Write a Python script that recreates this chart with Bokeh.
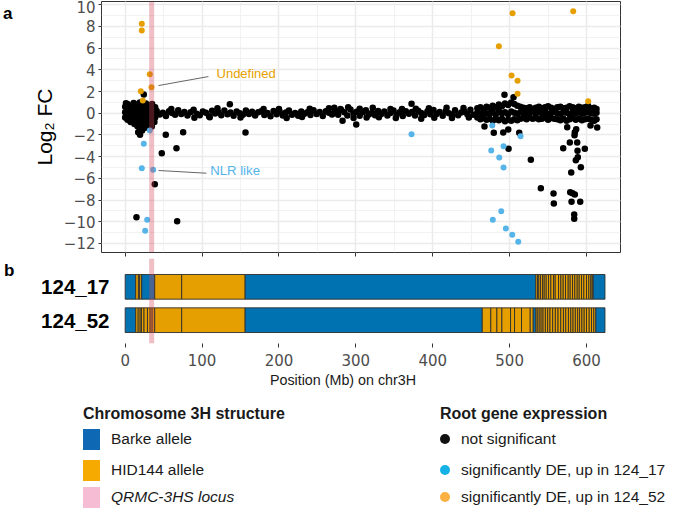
from bokeh.plotting import figure
from bokeh.models import Range1d, SingleIntervalTicker, FixedTicker, LinearAxis, Div
from bokeh.layouts import column
from bokeh.embed import file_html
from bokeh.resources import INLINE
from bokeh.core.properties import value

# ---------------- data ----------------
# QRMC-3HS locus (Mb)
locus = [31.2, 37.7]

# not significant genes: dense cloud at the left end of 3H
left_x = [0, 0, 0, 1, 3, 4, 4, 3, 7, 8, 8, 7, 11, 12, 12, 11, 12, 15, 16, 16, 15, 16,
          19, 20, 20, 19, 20, 19, 23, 24, 24, 23, 24, 22, 27, 28, 28, 27, 28, 26,
          31, 32, 32, 31, 30, 35, 36, 36, 35, 34, 39, 39, 39, 38]
left_y = [0.6, 0.1, -0.4, 0.92, 0.85, 0.35, -0.15, -0.6, 0.7, 0.2, -0.3, -0.8,
          0.95, 0.4, -0.1, -0.55, -1.0, 0.8, 0.25, -0.3, -0.75, -1.2,
          1.0, 0.5, 0.0, -0.45, -0.9, -1.4, 0.75, 0.3, -0.2, -0.65, -1.05, -1.6,
          0.9, 0.4, -0.1, -0.55, -1.0, -1.35, 0.7, 0.2, -0.3, -0.75, -1.15,
          0.85, 0.35, -0.15, -0.6, -1.0, 0.55, 0.05, -0.4, -0.8]

# not significant genes along the chromosome body
mid_x = [41, 45, 49, 53, 57, 61, 65, 69, 73, 77, 81, 85, 89, 93, 97, 101, 105, 109, 113, 117,
         121, 125, 129, 133, 137, 141, 145, 149, 153, 157, 161, 165, 169, 173, 177, 181, 185,
         189, 193, 197, 201, 205, 209, 213, 217, 221, 225, 229, 233, 237, 241, 245, 249, 253,
         257, 261, 265, 269, 273, 277, 281, 285, 289, 293, 297, 301, 305, 309, 313, 317, 321,
         325, 329, 333, 337, 341, 345, 349, 353, 357, 361, 365, 369, 373, 377, 381, 385, 389,
         393, 397, 401, 405, 409, 413, 417, 421, 425, 429, 433, 437, 441, 445, 449, 453]
mid_y = [0.21, -0.12, 0.05, -0.25, 0.18, 0.02, -0.15, 0.28, -0.08, 0.12,
         -0.22, 0.09, 0.31, -0.05, -0.18, 0.15, 0.04, -0.28, 0.22, -0.02,
         0.11, -0.19, 0.26, -0.1, 0.07, -0.24, 0.17, 0.0, -0.14, 0.24,
         -0.06, 0.13, -0.21, 0.08, 0.19, -0.16, 0.03, -0.27, 0.2, -0.09,
         0.14, -0.2, 0.06, 0.25, -0.13, 0.01, -0.23, 0.16, -0.04, 0.1,
         -0.17, 0.27, -0.07, 0.12, -0.26, 0.18, 0.04, -0.11, 0.23, -0.15,
         0.3, 0.08, -0.2, 0.35, -0.03, 0.14, -0.24, 0.1, 0.28, -0.12,
         0.05, -0.18, 0.21, -0.08, 0.16, -0.22, 0.02, 0.26, -0.14, 0.09,
         -0.25, 0.19, -0.05, 0.12, -0.2, 0.24, 0.03, -0.16, 0.15, -0.1,
         0.29, -0.06, 0.11, -0.23, 0.2, 0.0, -0.13, 0.27, -0.19, 0.07,
         0.17, -0.09, 0.32, -0.15]
extra_x = [60, 90, 110, 120, 150, 180, 200, 210, 230, 240, 265, 272, 280, 290, 297, 305, 314,
           322, 330, 345, 352, 360, 378, 385, 395, 402, 418, 425, 440, 447]
extra_y = [0.4, -0.42, -0.38, 0.45, -0.4, 0.38, 0.4, -0.45, -0.35, 0.42, 0.45, 0.5, 0.38, 0.55,
           -0.45, 0.42, -0.4, 0.5, -0.38, 0.4, -0.45, 0.38, 0.42, -0.5, 0.45, -0.42, 0.5, -0.45,
           0.48, -0.4]

# not significant genes: dense cloud at the distal right end
right_x = [458, 462, 466, 470, 474, 478, 482, 486, 490, 494, 498, 502, 506, 510, 514, 518, 522,
           526, 530, 534, 538, 542, 546, 550, 554, 558, 562, 566, 570, 574, 578, 582, 586, 590,
           594, 598, 602, 606, 610, 613]
right_y_hi = [0.45, 0.55, 0.4, 0.6, 0.5, 0.7, 0.55, 0.8, 0.65, 0.9, 0.75, 1.0, 0.85, 0.7, 0.6,
              0.5, 0.45, 0.55, 0.4, 0.5, 0.6, 0.45, 0.55, 0.65, 0.5, 0.4, 0.55, 0.6, 0.45, 0.5,
              0.65, 0.55, 0.45, 0.6, 0.5, 0.55, 0.7, 0.45, 0.5, 0.4]
right_y_mid = [0.05, -0.1, 0.15, 0.0, -0.05, 0.1, -0.15, 0.2, 0.0, 0.1, -0.1, 0.15, 0.05, -0.05,
               0.1, 0.0, -0.1, 0.05, 0.15, -0.05, 0.1, 0.0, 0.2, -0.1, 0.05, 0.15, 0.0, -0.05,
               0.1, 0.05, -0.1, 0.15, 0.0, 0.1, -0.05, 0.05, 0.1, 0.0, -0.05, 0.05]
right_y_lo = [-0.4, -0.55, -0.45, -0.6, -0.5, -0.7, -0.55, -0.65, -0.5, -0.75, -0.6, -0.7, -0.55,
              -0.65, -0.5, -0.45, -0.55, -0.4, -0.5, -0.45, -0.55, -0.5, -0.4, -0.6, -0.45, -0.5,
              -0.55, -0.65, -0.5, -0.7, -0.55, -0.45, -0.6, -0.5, -0.65, -0.55, -0.5, -0.6, -0.7,
              -0.55]

# not significant genes away from the main band
out_x = [24.2, 19.3, 16.9, 14.7, 67.6, 38.5, 47.6, 52.8, 66.7, 75.4, 34.6, 136.1, 156.5, 282.7,
         300.5, 372.4, 467.3, 479.4, 491.7, 498.2, 498.6, 512.5, 527.6, 540.6, 557.1, 557.5,
         569.7, 574.9, 578.3, 580.1, 578.8, 581.8, 584.8, 580.5, 591.8, 584.0, 584.0, 584.8,
         584.4, 586.6, 587.9, 588.3, 588.7, 597.8, 586.1, 592.6, 605.2, 613.9, 493.3, 505.1]
out_y = [1.72, -1.99, -1.75, -9.58, -9.95, -6.54, -3.69, -1.99, -3.23, -1.75, -1.23, 0.83, -1.78,
         -0.70, -1.04, 0.87, -1.23, -1.81, -1.78, -1.50, -3.28, -1.81, -4.30, -6.91, -7.40,
         -8.32, -3.22, -1.29, -2.70, -5.47, -7.28, -7.37, -7.49, -8.17, -8.17, -9.34, -9.74,
         -1.75, -2.03, -1.47, -2.70, -3.47, -4.06, -3.28, -4.33, -4.98, -1.13, -1.32, 1.70, 1.47]

# significantly DE, up in 124_17
up17_x = [32.0, 24.2, 21.6, 36.4, 28.6, 26.0, 372.4, 477.4, 514.2, 492.1, 476.1, 486.5, 492.1,
          489.1, 478.1, 495.1, 503.4, 511.2]
up17_y = [-1.59, -2.82, -5.07, -5.22, -9.82, -10.84, -1.94, -1.13, -2.12, -3.04, -3.44, -4.08,
          -5.00, -9.03, -9.82, -10.63, -11.21, -11.85]

# significantly DE, up in 124_52
up52_x = [21.6, 21.6, 32.0, 34.2, 20.3, 22.9, 503.8, 486.0, 502.5, 510.3, 510.3, 582.7, 602.2]
up52_y = [8.24, 7.62, 3.59, 2.40, 2.03, 1.17, 9.22, 6.18, 3.47, 2.99, 1.79, 9.40, 1.11]

# annotated genes: leader line from gene to label
annot_text = ["Undefined", "NLR like"]
annot_line_x0 = [43.3, 43.3]
annot_line_y0 = [2.55, -5.28]
annot_line_x1 = [108.3, 105.7]
annot_line_y1 = [3.38, -5.53]
annot_lab_x = [118.8, 110.5]
annot_lab_y = [3.66, -5.28]

# chromosome 3H haplotype structure (segment breakpoints in Mb; B = Barke, H = HID144)
lines = ["124_17", "124_52"]
breaks_17 = [0, 13.7, 17.2, 18.9, 21.5, 38.4, 73.5, 156, 534.1, 536.3, 538.0, 540.2, 542.8, 545.0,
             547.6, 550.6, 553.6, 557.1, 559.3, 563.6, 566.6, 569.7, 572.7, 576.2, 578.8, 581.8,
             584.8, 587.9, 590.5, 593.5, 596.5, 600.0, 603.0, 605.6, 607.4, 608.7, 624]
allele_17 = "BHHHBHHB" + "HHHHHHHHHH" + "HHHHHHHHHH" + "HHHHHHH" + "B"
breaks_52 = [0, 13.7, 16.9, 19.5, 21.2, 24.5, 29.0, 32.5, 35.1, 38.4, 73.5, 156, 464.4, 475.5,
             483.4, 489.9, 501.2, 506.4, 515.5, 526.8, 530.7, 534.1, 536.0, 538.5, 541.0, 543.5,
             546.5, 549.5, 552.5, 556.0, 559.5, 563.0, 566.5, 570.0, 573.0, 576.5, 579.5, 582.5,
             585.5, 588.5, 591.0, 594.0, 597.0, 600.0, 603.5, 606.5, 609.5, 612.1, 624]
allele_52 = "B" + "HHHHHHHH" + "HH" + "B" + "HHHHHHHH" + "B" + "HHHHHHHHHH" + "HHHHHHHHHH" + "HHHHHH" + "B"

x_ticks = [0, 100, 200, 300, 400, 500, 600]
x_title = "Position (Mb) on chr3H"
y_title = "Log\u2082 FC"

legend_struct_title = "Chromosome 3H structure"
legend_struct_labels = ["Barke allele", "HID144 allele", "QRMC-3HS locus"]
legend_expr_title = "Root gene expression"
legend_expr_labels = ["not significant", "significantly DE, up in 124_17", "significantly DE, up in 124_52"]

# ---------------- styling ----------------
BLUE, ORANGE = "#0072B2", "#E69F00"
SKY = "#56B4E9"
PINK, PINK_ALPHA = "#D0485A", 0.35
ALLELE_COLORS = {"B": BLUE, "H": ORANGE}
SANS = "Liberation Sans"
TICKFONT = "DejaVu Sans"
GREY_TXT = "#4D4D4D"
LEG_SQ = ["#0E68B3", "#F6AA00", "#F5BCD3"]
LEG_DOT = ["#111111", "#14B1E7", "#FBB040"]

XR = (-30.8, 644.2)
YR_TOP = (-12.84, 10.30)
YR_BOT = (0.301, 2.850)

# ---------------- panel a ----------------
p1 = figure(frame_width=519, frame_height=251, min_border_left=100, min_border_right=10,
            min_border_top=1, min_border_bottom=6,
            x_range=Range1d(*XR), y_range=Range1d(*YR_TOP),
            output_backend="svg", toolbar_location=None)
p1.background_fill_color = "white"
p1.border_fill_color = "white"
p1.outline_line_color = "#333333"
p1.outline_line_width = 1

xax1 = p1.xaxis[0]
yax1 = p1.yaxis[0]
xax1.ticker = SingleIntervalTicker(interval=100, num_minor_ticks=2)
yax1.ticker = SingleIntervalTicker(interval=2, num_minor_ticks=2)
for g in (p1.xgrid[0], p1.ygrid[0]):
    g.grid_line_color = "#EBEBEB"
    g.grid_line_width = 1.5
    g.minor_grid_line_color = "#EFEFEF"
    g.minor_grid_line_width = 0.8

xax1.axis_line_color = None
xax1.major_tick_out = 4
xax1.major_tick_in = 0
xax1.major_tick_line_color = "#333333"
xax1.minor_tick_line_color = None
xax1.major_label_overrides = {t: "" for t in x_ticks}
xax1.major_label_text_font_size = "1px"
xax1.major_label_standoff = 0

yax1.axis_line_color = None
yax1.major_tick_out = 3
yax1.major_tick_in = 0
yax1.major_tick_line_color = "#333333"
yax1.minor_tick_line_color = None
yax1.major_label_text_font = TICKFONT
yax1.major_label_text_font_size = "15px"
yax1.major_label_text_color = GREY_TXT
yax1.major_label_standoff = 2
yax1.axis_label = y_title
yax1.axis_label_text_font = SANS
yax1.axis_label_text_font_size = "21px"
yax1.axis_label_text_font_style = "normal"
yax1.axis_label_text_color = "black"
yax1.axis_label_standoff = 5

# panel tag "a"
tag_a = LinearAxis(ticker=FixedTicker(ticks=[9.8]), major_label_overrides={9.8: "a"},
                   axis_line_color=None, major_tick_line_color=None, minor_tick_line_color=None,
                   major_label_text_font=SANS, major_label_text_font_style="bold",
                   major_label_text_font_size="17px", major_label_text_color="black",
                   major_label_standoff=11)
p1.add_layout(tag_a, "left")

ns_x = left_x + mid_x + extra_x + right_x + right_x + right_x + out_x
ns_y = left_y + mid_y + extra_y + right_y_hi + right_y_mid + right_y_lo + out_y
p1.scatter(ns_x, ns_y, size=6.5, fill_color="black", line_color=None)
p1.scatter(up17_x, up17_y, size=6, fill_color=SKY, line_color=None)
p1.scatter(up52_x, up52_y, size=6, fill_color=ORANGE, line_color=None)

p1.segment(x0=annot_line_x0, y0=annot_line_y0, x1=annot_line_x1, y1=annot_line_y1,
           line_color="#555555", line_width=0.9)
p1.text(x=annot_lab_x[:1], y=annot_lab_y[:1], text=annot_text[:1], text_color=ORANGE,
        text_font=value(SANS), text_font_size="13px", text_baseline="middle", text_align="left")
p1.text(x=annot_lab_x[1:], y=annot_lab_y[1:], text=annot_text[1:], text_color=SKY,
        text_font=value(SANS), text_font_size="13.2px", text_baseline="middle", text_align="left")

p1.quad(left=[locus[0]], right=[locus[1]], bottom=[YR_TOP[0]], top=[YR_TOP[1]],
        fill_color=PINK, fill_alpha=PINK_ALPHA, line_color=None)

# ---------------- panel b ----------------
line_pos = {"124_17": 2, "124_52": 1}
p2 = figure(frame_width=519, frame_height=85, min_border_left=100, min_border_right=10,
            min_border_top=0, min_border_bottom=30,
            x_range=Range1d(*XR), y_range=Range1d(*YR_BOT),
            output_backend="svg", toolbar_location=None)
p2.outline_line_color = None
p2.background_fill_color = "white"
p2.border_fill_color = "white"
p2.grid.visible = False

for name, br, al in ((lines[0], breaks_17, allele_17), (lines[1], breaks_52, allele_52)):
    n = len(br) - 1
    p2.hbar(y=[line_pos[name]] * n, height=0.74, left=br[:-1], right=br[1:],
            fill_color=[ALLELE_COLORS[a] for a in al[:n]], line_color="#2E2E2E", line_width=0.9)

p2.quad(left=[locus[0]], right=[locus[1]], bottom=[YR_BOT[0]], top=[YR_BOT[1]],
        fill_color=PINK, fill_alpha=PINK_ALPHA, line_color=None)

xax2 = p2.xaxis[0]
yax2 = p2.yaxis[0]
xax2.ticker = FixedTicker(ticks=x_ticks)
xax2.axis_line_color = None
xax2.major_tick_out = 4
xax2.major_tick_in = 0
xax2.major_tick_line_color = "#333333"
xax2.minor_tick_line_color = None
xax2.major_label_text_font = TICKFONT
xax2.major_label_text_font_size = "15px"
xax2.major_label_text_color = GREY_TXT
xax2.major_label_standoff = 6

yax2.ticker = FixedTicker(ticks=[line_pos[l] for l in lines])
yax2.major_label_overrides = {line_pos[l]: l for l in lines}
yax2.axis_line_color = None
yax2.major_tick_line_color = None
yax2.minor_tick_line_color = None
yax2.major_label_text_font = SANS
yax2.major_label_text_font_style = "bold"
yax2.major_label_text_font_size = "20.5px"
yax2.major_label_text_color = "black"
yax2.major_label_standoff = -14

tag_b = LinearAxis(ticker=FixedTicker(ticks=[2.5]), major_label_overrides={2.5: "b"},
                   axis_line_color=None, major_tick_line_color=None, minor_tick_line_color=None,
                   major_label_text_font=SANS, major_label_text_font_style="bold",
                   major_label_text_font_size="17px", major_label_text_color="black",
                   major_label_standoff=18)
p2.add_layout(tag_b, "left")

# ---------------- axis title + legends (HTML block under the panels) ----------------
def span(left, top, txt, size, extra=""):
    return (f'<span style="position:absolute;left:{left}px;top:{top}px;font-size:{size}px;'
            f'line-height:1;white-space:nowrap;{extra}">{txt}</span>')

def box(left, top, w, h, color, radius="0"):
    return (f'<span style="position:absolute;left:{left}px;top:{top}px;width:{w}px;height:{h}px;'
            f'background:{color};border-radius:{radius};"></span>')

rows = [66, 97, 124]
parts = [f'<span style="position:absolute;left:243px;top:0px;width:200px;text-align:center;'
         f'font-size:14.3px;line-height:1;">{x_title}</span>',
         span(83, 33, legend_struct_title, 16, "font-weight:bold;"),
         span(440, 33, legend_expr_title, 16, "font-weight:bold;")]
for i, r in enumerate(rows):
    parts.append(box(83, r - 10.5, 17, 21, LEG_SQ[i]))
    parts.append(span(111, r - 7.75, legend_struct_labels[i], 15.5,
                      "font-style:italic;" if i == 2 else ""))
    parts.append(box(440, r - 5, 10, 10, LEG_DOT[i], "50%"))
    parts.append(span(461, r - 7.75, legend_expr_labels[i], 15.5))
html = ('<div style="position:relative;width:685px;height:136px;margin:0;padding:0;'
        'font-family:\'Liberation Sans\',Arial,sans-serif;color:#1A1A1A;">' + "".join(parts) + '</div>')
legend_div = Div(text=html, width=685, height=136, margin=(0, 0, 0, 0))

layout = column(p1, p2, legend_div)
open("out.html", "w").write(file_html(layout, INLINE))
